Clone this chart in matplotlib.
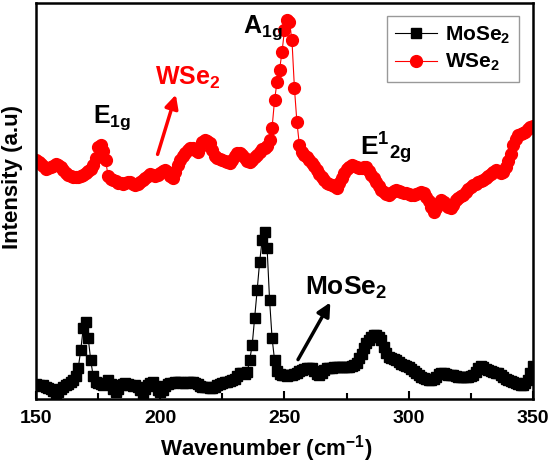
import numpy as np
import matplotlib
matplotlib.use("Agg")
import matplotlib.pyplot as plt

plt.rcParams['font.family'] = ['Liberation Sans', 'DejaVu Sans']
plt.rcParams['font.weight'] = 'bold'
plt.rcParams['mathtext.fontset'] = 'custom'
plt.rcParams['mathtext.rm'] = 'Liberation Sans:bold'
plt.rcParams['mathtext.bf'] = 'Liberation Sans:bold'
plt.rcParams['mathtext.it'] = 'Liberation Sans:bold'

# Raman shift axis (cm^-1), one point per wavenumber
wavenumber = np.arange(150, 351, 1)

# WSe2 spectrum (offset upward, arbitrary units)
wse2 = [239, 237, 235, 233, 230, 231, 232, 233, 235, 234,
        232, 229, 226, 224, 223, 222, 222, 222, 223, 224,
        226, 228, 230, 234, 241, 252, 254, 248, 239, 223,
        220, 219, 218, 216, 216, 215, 216, 217, 217, 215,
        214, 215, 217, 219, 221, 223, 225, 224, 223, 224,
        226, 228, 229, 227, 223, 221, 227, 234, 239, 243,
        246, 249, 251, 251, 249, 247, 252, 257, 259, 258,
        256, 249, 243, 241, 240, 239, 238, 237, 236, 239,
        243, 246, 246, 244, 241, 238, 237, 239, 242, 244,
        247, 250, 251, 253, 259, 271, 299, 317, 329, 347,
        369, 379, 377, 359, 311, 277, 254, 247, 244, 242,
        239, 236, 233, 229, 225, 222, 219, 216, 215, 214,
        213, 211, 216, 221, 226, 230, 232, 234, 233, 232,
        231, 231, 232, 232, 228, 224, 221, 217, 213, 209,
        207, 205, 204, 206, 208, 209, 208, 207, 206, 206,
        205, 204, 204, 205, 206, 207, 206, 202, 198, 192,
        187, 191, 196, 199, 197, 194, 192, 191, 194, 199,
        201, 203, 204, 207, 210, 212, 214, 215, 217, 218,
        219, 221, 223, 225, 227, 229, 228, 226, 227, 232,
        238, 245, 254, 260, 264, 265, 266, 267, 270, 272,
        273]

# MoSe2 spectrum (arbitrary units)
mose2 = [15, 14, 13, 14, 12, 11, 10, 8, 6, 7,
         10, 12, 14, 15, 17, 19, 23, 31, 49, 71,
         77, 61, 39, 23, 17, 16, 15, 14, 16, 19,
         15, 10, 7, 10, 14, 15, 16, 15, 14, 13,
         14, 12, 9, 6, 10, 14, 16, 17, 13, 9,
         7, 9, 13, 15, 16, 16, 17, 17, 17, 16,
         16, 17, 17, 17, 16, 15, 13, 12, 12, 12,
         11, 11, 12, 14, 15, 16, 17, 17, 18, 19,
         20, 23, 26, 26, 25, 27, 39, 54, 81, 109,
         137, 159, 167, 151, 99, 61, 39, 28, 25, 24,
         24, 23, 24, 24, 25, 26, 28, 29, 30, 31,
         31, 31, 28, 25, 24, 26, 29, 31, 31, 31,
         32, 32, 32, 32, 32, 32, 32, 33, 34, 36,
         41, 45, 51, 56, 59, 62, 64, 64, 62, 59,
         52, 46, 42, 41, 40, 39, 37, 35, 34, 33,
         32, 30, 28, 26, 24, 22, 21, 20, 19, 19,
         20, 22, 25, 26, 26, 25, 24, 24, 24, 23,
         22, 22, 22, 22, 22, 23, 24, 27, 31, 33,
         32, 30, 29, 28, 27, 26, 26, 24, 22, 20,
         19, 18, 17, 16, 15, 14, 14, 16, 19, 26,
         33]


def main():
    fig = plt.figure(figsize=(5.5, 4.65), dpi=100)
    ax = fig.add_axes([0.0655, 0.1419, 0.9035, 0.8516])

    ax.plot(wavenumber, mose2, color='black', lw=0.8, marker='s',
            markersize=7.5, label=r'MoSe$_{\mathbf{2}}$')
    ax.plot(wavenumber, wse2, color='red', lw=0.8, marker='o',
            markersize=8.5, label=r'WSe$_{\mathbf{2}}$')

    ax.set_xlim(150, 350)
    ax.set_ylim(0, 396)
    ax.set_xticks([150, 200, 250, 300, 350])
    ax.set_xticks([175, 225, 275, 325], minor=True)
    ax.set_yticks([])
    ax.tick_params(axis='x', which='major', direction='in', length=6, width=1.5,
                   labelsize=14, pad=8)
    ax.tick_params(axis='x', which='minor', direction='in', length=4, width=1.5)
    for lab in ax.get_xticklabels():
        lab.set_fontweight('bold')
    for sp in ax.spines.values():
        sp.set_linewidth(1.8)

    ax.set_xlabel(r'Wavenumber (cm$^{\mathbf{-1}}$)', fontsize=16,
                  fontweight='bold', labelpad=4)
    ax.xaxis.set_label_coords(0.463, -0.085)
    ax.set_ylabel('Intensity (a.u)', fontsize=16, fontweight='bold')
    ax.yaxis.set_label_coords(-0.026, 0.56)

    # peak labels
    ax.text(233.3, 366, r'$\mathbf{A_{1g}}$', fontsize=18)
    ax.text(172.9, 276, r'$\mathbf{E_{1g}}$', fontsize=18)
    ax.text(280.4, 244, r'$\mathbf{E^{1}{}_{2g}}$', fontsize=19)

    # material labels with arrows
    ax.text(197.9, 314, r'WSe$_{\mathbf{2}}$', color='red', fontsize=18,
            fontweight='bold')
    ax.annotate('', xy=(206.6, 307), xytext=(198.6, 242),
                arrowprops=dict(arrowstyle='-|>', color='red', lw=2.5,
                                mutation_scale=20))
    ax.text(258.2, 104, r'MoSe$_{\mathbf{2}}$', color='black', fontsize=19,
            fontweight='bold')
    ax.annotate('', xy=(269, 99), xytext=(254.9, 37),
                arrowprops=dict(arrowstyle='-|>', color='black', lw=2.5,
                                mutation_scale=20))

    leg = ax.legend(loc='upper right', bbox_to_anchor=(0.972, 0.967), fontsize=15,
                    frameon=True, fancybox=False, edgecolor='gray',
                    handlelength=2.0, borderpad=0.4, labelspacing=0.3,
                    handletextpad=0.4, borderaxespad=0)
    leg.get_frame().set_linewidth(1.0)

    plt.savefig('out.png', dpi=100)


if __name__ == '__main__':
    main()
